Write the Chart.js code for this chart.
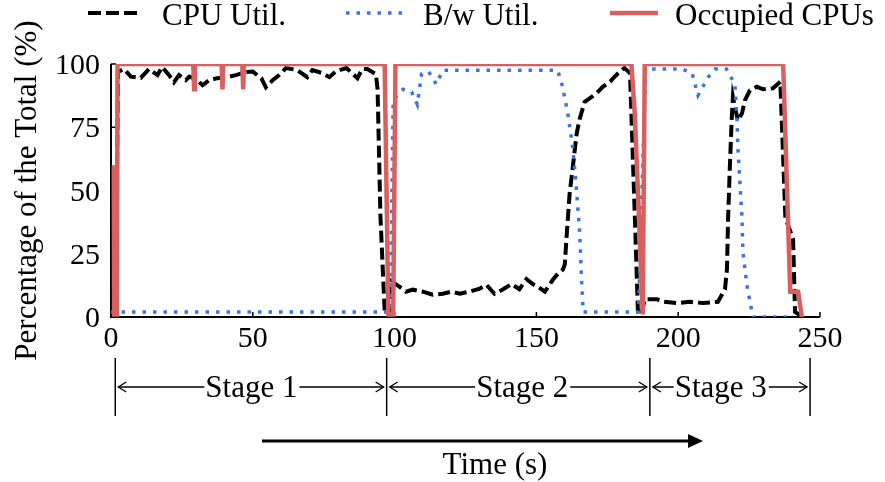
<!DOCTYPE html>
<html>
<head>
<meta charset="utf-8">
<script src="https://cdn.jsdelivr.net/npm/chart.js@4.4.1/dist/chart.umd.min.js"></script>
<style>
  html, body { margin: 0; padding: 0; background: #fff; }
  #wrap { width: 885px; height: 482px; }
</style>
</head>
<body>
<div id="wrap"><canvas id="chart" width="885" height="482"></canvas></div>
<script>
// CPU utilisation (black dashed)
const cpuTime = [1.5, 2.5, 4.6, 7, 10.5, 13.4, 16.4, 18, 20.5, 22.2, 24, 26.4, 27.6, 30, 32.3, 34.6, 37.5, 41, 44, 47.6, 50, 53, 54.6, 57, 59.3, 61.7, 65.7, 69.2, 71, 74.5, 77, 79.4, 83, 86.9, 88.6, 90.4, 93.4, 94, 95, 96.5, 98, 99,
  101.7, 104, 106.4, 110, 113.4, 117, 120, 123, 126.4, 130, 132.4, 135.2, 138, 141.2, 144, 146.5, 148.7, 150.5, 153, 155.8, 157.5, 159.3, 160, 160.6, 161.7, 162.8, 164.2, 165.3, 167, 169.5, 171.7, 173.4, 176, 177.6, 179.4, 181, 183, 184.7, 185.8, 187,
  188.2, 192.5, 195, 199.5, 204, 208.7, 214, 216.5, 217.2, 217.6, 218.2, 218.9, 219.3, 221, 222.5, 223.5, 225.3, 227.7, 230, 233.4, 236, 237.8, 240.5, 241.2, 244];
const cpuUtil = [0, 97, 98, 95, 94.5, 98, 95.6, 98.8, 95.6, 92.8, 95.6, 93.6, 95, 94, 91.6, 93.6, 94.4, 94.8, 95.6, 96.8, 97, 94.4, 90.8, 93.6, 95.6, 98.4, 97.6, 94.8, 97.6, 96.4, 94.8, 97.2, 98.4, 94.4, 98, 98, 96, 90, 40, 2, 1, 14,
  12, 10, 10.8, 10, 8.8, 9.2, 10, 9.2, 10, 11.2, 12.7, 9.2, 10.8, 13, 11, 15, 13, 12, 10, 14.7, 17, 18.7, 20.7, 31, 48.6, 59, 72.5, 78.5, 85, 87, 89, 91, 93, 95, 97, 98.4, 96.4, 40, 2, 1,
  7, 7, 6, 5.5, 6, 5.5, 6, 11, 19, 39, 59, 79, 87, 77.7, 80.5, 85.6, 89.6, 91, 90, 90.4, 93, 39, 31, 2, 0];

// Bandwidth utilisation (blue dotted)
const bwTime = [0, 96.5, 98.5, 99.5, 101, 103, 106, 108, 109.5, 112, 114.7, 117, 157.5, 159, 161, 162.8, 164, 165.3, 166, 166.5, 186, 187.5, 188.5, 201.4, 204.9, 207, 210.6, 213, 217, 220, 220.7, 221.1, 221.8, 222.5, 222.8, 224.2, 226, 226.3, 238.3];
const bwUtil = [2, 2, 2, 85, 88, 90, 89, 84, 96, 97, 92, 97.5, 97.5, 92, 81, 67, 52.5, 32.6, 12.7, 2, 2, 60, 98, 98, 96.4, 87.6, 94.8, 98, 98, 92, 79, 65.7, 52.5, 39, 26, 12.7, 2, 0, 0];

// Occupied CPUs (red solid)
const occTime = [1, 1.1, 2.1, 2.3, 29, 29.3, 29.6, 39, 39.3, 39.6, 46.3, 46.6, 46.9, 96.5, 97.8, 99.5, 100.3, 183.5, 184.7, 185.8, 187.5, 188.2, 237, 239.5, 242.3, 243.6];
const occCpus = [60, 1, 1, 100, 100, 90, 100, 100, 90, 100, 100, 90, 100, 100, 1, 1, 100, 100, 80, 50, 1, 100, 100, 10, 10, 0];

const xTicks = [0, 50, 100, 150, 200, 250];
const yTicks = [0, 25, 50, 75, 100];

const stageBounds = [1.5, 97.2, 190, 246.5];
const stageNames = ['Stage 1', 'Stage 2', 'Stage 3'];
const stageTextAt = [49.5, 145, 215];

const TICK_FONT = '30px "Liberation Serif", "Times New Roman", serif';
const FONT = '31px "Liberation Serif", "Times New Roman", serif';
const RED = '#d9605f';
const BLUE = '#3d74d9';

const toPoints = (xs, ys) => xs.map((x, i) => ({ x, y: ys[i] }));

function arrowHead(ctx, x, y, dir) {
  ctx.beginPath();
  ctx.moveTo(x - dir * 8, y - 5);
  ctx.lineTo(x, y);
  ctx.lineTo(x - dir * 8, y + 5);
  ctx.stroke();
}

const decor = {
  id: 'decor',
  beforeDatasetsDraw(chart) {
    const { ctx, chartArea: { left, right, top, bottom }, scales: { x, y } } = chart;
    ctx.save();
    ctx.strokeStyle = '#000';
    ctx.lineWidth = 2;
    ctx.beginPath();
    ctx.moveTo(left, top);
    ctx.lineTo(left, bottom);
    ctx.lineTo(right, bottom);
    ctx.stroke();
    ctx.lineWidth = 1.5;
    yTicks.forEach((v) => {
      const py = y.getPixelForValue(v);
      ctx.beginPath();
      ctx.moveTo(left, py);
      ctx.lineTo(left + 5, py);
      ctx.stroke();
    });
    xTicks.forEach((v) => {
      const px = x.getPixelForValue(v);
      ctx.beginPath();
      ctx.moveTo(px, bottom);
      ctx.lineTo(px, bottom - 5);
      ctx.stroke();
    });
    ctx.restore();
  },
  afterDraw(chart) {
    const { ctx, chartArea: { left, bottom }, scales: { x, y } } = chart;
    ctx.save();
    ctx.fillStyle = '#000';
    ctx.strokeStyle = '#000';
    ctx.textBaseline = 'alphabetic';

    // tick labels
    ctx.font = TICK_FONT;
    ctx.textAlign = 'right';
    yTicks.forEach((v) => ctx.fillText(String(v), left - 11, y.getPixelForValue(v) + 10));
    ctx.textAlign = 'center';
    xTicks.forEach((v) => ctx.fillText(String(v), x.getPixelForValue(v), bottom + 30));

    ctx.font = FONT;
    // y title
    ctx.save();
    ctx.translate(36, (chart.chartArea.top + bottom) / 2);
    ctx.rotate(-Math.PI / 2);
    ctx.textAlign = 'center';
    ctx.fillText('Percentage of the Total (%)', 0, 0);
    ctx.restore();

    // stages
    ctx.lineWidth = 1.5;
    stageBounds.forEach((t) => {
      const px = x.getPixelForValue(t);
      ctx.beginPath();
      ctx.moveTo(px, 358);
      ctx.lineTo(px, 416);
      ctx.stroke();
    });
    ctx.lineWidth = 1.3;
    stageNames.forEach((name, i) => {
      const a = x.getPixelForValue(stageBounds[i]) + 3;
      const b = x.getPixelForValue(stageBounds[i + 1]) - 3;
      const c = x.getPixelForValue(stageTextAt[i]);
      const w = ctx.measureText(name).width;
      ctx.fillText(name, c, 397);
      const ay = 387;
      ctx.beginPath();
      ctx.moveTo(a, ay);
      ctx.lineTo(c - w / 2 - 1, ay);
      ctx.moveTo(c + w / 2 + 2, ay);
      ctx.lineTo(b, ay);
      ctx.stroke();
      arrowHead(ctx, a, ay, -1);
      arrowHead(ctx, b, ay, 1);
    });

    // time arrow
    ctx.lineWidth = 3;
    ctx.beginPath();
    ctx.moveTo(262, 441);
    ctx.lineTo(690, 441);
    ctx.stroke();
    ctx.beginPath();
    ctx.moveTo(703, 441);
    ctx.lineTo(688, 434);
    ctx.lineTo(688, 448);
    ctx.closePath();
    ctx.fill();
    ctx.fillText('Time (s)', 495, 474);

    // legend
    const ly = 13;
    ctx.lineCap = 'butt';
    ctx.lineWidth = 4;
    ctx.setLineDash([13, 5]);
    ctx.beginPath(); ctx.moveTo(88, ly); ctx.lineTo(137, ly); ctx.stroke();
    ctx.strokeStyle = BLUE;
    ctx.lineWidth = 3.5;
    ctx.setLineDash([3.5, 7]);
    ctx.beginPath(); ctx.moveTo(346, ly); ctx.lineTo(402, ly); ctx.stroke();
    ctx.strokeStyle = RED;
    ctx.lineWidth = 4.5;
    ctx.setLineDash([]);
    ctx.beginPath(); ctx.moveTo(610, ly); ctx.lineTo(658, ly); ctx.stroke();
    ctx.textAlign = 'left';
    ctx.fillText('CPU Util.', 162, 25);
    ctx.fillText('B/w Util.', 423, 25);
    ctx.fillText('Occupied CPUs', 675, 25);
    ctx.restore();
  }
};

new Chart(document.getElementById('chart'), {
  type: 'line',
  data: {
    datasets: [
      {
        label: 'Occupied CPUs',
        data: toPoints(occTime, occCpus),
        borderColor: RED,
        borderWidth: 4.5,
        order: 0,
      },
      {
        label: 'B/w Util.',
        data: toPoints(bwTime, bwUtil),
        borderColor: BLUE,
        borderWidth: 3.5,
        borderDash: [3.5, 7],
        order: 1,
      },
      {
        label: 'CPU Util.',
        data: toPoints(cpuTime, cpuUtil),
        borderColor: '#000',
        borderWidth: 4,
        borderDash: [12, 5],
        order: 2,
      },
    ],
  },
  options: {
    responsive: false,
    devicePixelRatio: 1,
    animation: false,
    layout: { padding: { left: 103, right: 65, top: 64, bottom: 157 } },
    elements: {
      point: { radius: 0, hoverRadius: 0 },
      line: { tension: 0, fill: false, borderCapStyle: 'butt', borderJoinStyle: 'miter' },
    },
    scales: {
      x: {
        type: 'linear', min: 0, max: 250,
        ticks: { display: false, stepSize: 50 },
        grid: { display: false },
        border: { display: false },
      },
      y: {
        type: 'linear', min: 0, max: 100,
        ticks: { display: false, stepSize: 25 },
        grid: { display: false },
        border: { display: false },
      },
    },
    plugins: {
      legend: { display: false },
      tooltip: { enabled: false },
    },
  },
  plugins: [decor],
});
</script>
</body>
</html>
